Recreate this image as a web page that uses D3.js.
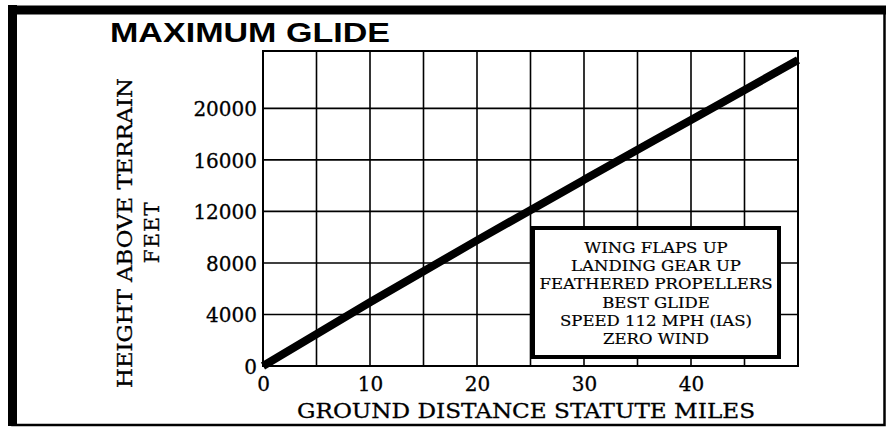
<!DOCTYPE html>
<html>
<head>
<meta charset="utf-8">
<script src="https://cdn.jsdelivr.net/npm/d3@7"></script>
<style>
  html, body { margin: 0; padding: 0; background: #fff; }
  svg { display: block; }
</style>
</head>
<body>
<svg id="chart" width="888" height="429"></svg>
<script>
// ---- data ----
const distanceMiles = [0, 10, 20, 30, 40, 50];                 // ground distance, statute miles
const heightFeet    = [0, 4950, 9750, 14450, 19100, 23750];    // height above terrain, feet
const xTickLabels   = [0, 10, 20, 30, 40];
const yTickLabels   = [0, 4000, 8000, 12000, 16000, 20000];
const xGridValues   = [0, 5, 10, 15, 20, 25, 30, 35, 40, 45, 50];
const yGridValues   = [0, 4000, 8000, 12000, 16000, 20000];
const noteLines = [
  "WING FLAPS UP",
  "LANDING GEAR UP",
  "FEATHERED PROPELLERS",
  "BEST GLIDE",
  "SPEED 112 MPH (IAS)",
  "ZERO WIND"
];
const titleText = "MAXIMUM GLIDE";
const xTitle = "GROUND DISTANCE STATUTE MILES";
const yTitle1 = "HEIGHT ABOVE TERRAIN";
const yTitle2 = "FEET";

// ---- layout ----
const svg = d3.select("#chart");
const plot = { left: 263, right: 798, top: 51, bottom: 366 };
const x = d3.scaleLinear().domain([0, 50]).range([plot.left, plot.right]);
const y = d3.scaleLinear().domain([0, 24450]).range([plot.bottom, plot.top]);
const serif = "'DejaVu Serif', 'Liberation Serif', serif";

// outer frame
svg.append("rect").attr("x", 12.5).attr("y", 10).attr("width", 872).attr("height", 415)
  .attr("fill", "none").attr("stroke", "#000").attr("stroke-width", 2.5);
svg.append("line").attr("x1", 12.5).attr("x2", 12.5).attr("y1", 5).attr("y2", 426)
  .attr("stroke", "#000").attr("stroke-width", 9);
svg.append("line").attr("x1", 8).attr("x2", 886).attr("y1", 10).attr("y2", 10)
  .attr("stroke", "#000").attr("stroke-width", 9);

// title
svg.append("text").text(titleText)
  .attr("x", 110).attr("y", 42)
  .attr("font-family", "'Liberation Sans', 'DejaVu Sans', sans-serif")
  .attr("font-weight", "bold").attr("font-size", 28)
  .attr("textLength", 280).attr("lengthAdjust", "spacingAndGlyphs")
  .attr("fill", "#000");

// grid
const g = svg.append("g");
g.selectAll("line.vg").data(xGridValues).join("line")
  .attr("x1", d => x(d)).attr("x2", d => x(d))
  .attr("y1", plot.top).attr("y2", plot.bottom)
  .attr("stroke", "#000").attr("stroke-width", 1.6);
g.selectAll("line.hg").data(yGridValues).join("line")
  .attr("x1", plot.left).attr("x2", plot.right)
  .attr("y1", d => y(d)).attr("y2", d => y(d))
  .attr("stroke", "#000").attr("stroke-width", 1.6);
g.append("rect").attr("x", plot.left).attr("y", plot.top)
  .attr("width", plot.right - plot.left).attr("height", plot.bottom - plot.top)
  .attr("fill", "none").attr("stroke", "#000").attr("stroke-width", 2);

// axes (labels only, using d3 axes)
const xAxis = d3.axisBottom(x).tickValues(xTickLabels).tickSize(0).tickPadding(0).tickFormat(d3.format("d"));
const xa = svg.append("g").attr("transform", `translate(0,${plot.bottom})`).call(xAxis);
xa.select(".domain").remove();
xa.selectAll("text").attr("font-family", serif).attr("font-size", 20).attr("fill", "#000")
  .attr("stroke", "#000").attr("stroke-width", 0.3)
  .attr("dy", null).attr("y", 25);

const yAxis = d3.axisLeft(y).tickValues(yTickLabels).tickSize(0).tickPadding(6).tickFormat(d3.format("d"));
const ya = svg.append("g").attr("transform", `translate(${plot.left},0)`).call(yAxis);
ya.select(".domain").remove();
ya.selectAll("text").attr("font-family", serif).attr("font-size", 20).attr("fill", "#000")
  .attr("stroke", "#000").attr("stroke-width", 0.3)
  .attr("dy", "0.36em");

// data line
const lineData = distanceMiles.map((d, i) => [d, heightFeet[i]]);
svg.append("path").datum(lineData)
  .attr("d", d3.line().x(d => x(d[0])).y(d => y(d[1])).curve(d3.curveMonotoneX))
  .attr("fill", "none").attr("stroke", "#000").attr("stroke-width", 8).attr("stroke-linecap", "butt");

// axis titles
svg.append("text").text(xTitle)
  .attr("x", 526).attr("y", 418).attr("text-anchor", "middle")
  .attr("font-family", serif).attr("font-size", 20)
  .attr("stroke", "#000").attr("stroke-width", 0.3)
  .attr("textLength", 458).attr("lengthAdjust", "spacingAndGlyphs").attr("fill", "#000");
svg.append("text").text(yTitle1)
  .attr("transform", "translate(132,233) rotate(-90)").attr("text-anchor", "middle")
  .attr("font-family", serif).attr("font-size", 20)
  .attr("stroke", "#000").attr("stroke-width", 0.3)
  .attr("textLength", 310).attr("lengthAdjust", "spacingAndGlyphs").attr("fill", "#000");
svg.append("text").text(yTitle2)
  .attr("transform", "translate(159,232) rotate(-90)").attr("text-anchor", "middle")
  .attr("font-family", serif).attr("font-size", 20)
  .attr("stroke", "#000").attr("stroke-width", 0.3)
  .attr("letter-spacing", 1.5).attr("fill", "#000");

// note box
const box = { x: 533, y: 228, w: 246, h: 129 };
svg.append("rect").attr("x", box.x).attr("y", box.y).attr("width", box.w).attr("height", box.h)
  .attr("fill", "#fff").attr("stroke", "#000").attr("stroke-width", 4);
const cx = box.x + box.w / 2;
const notes = svg.append("g").attr("transform", `translate(${cx},0)`);
const nt = notes.selectAll("text").data(noteLines).join("text")
  .text(d => d)
  .attr("x", 0).attr("y", (d, i) => 253 + i * 18.2)
  .attr("text-anchor", "middle")
  .attr("font-family", serif).attr("font-size", 14.5).attr("fill", "#000")
  .attr("stroke", "#000").attr("stroke-width", 0.2);
// stretch horizontally so the widest line matches the box width in the reference
let maxW = 0;
nt.each(function() { maxW = Math.max(maxW, this.getComputedTextLength()); });
const sx = 233 / maxW;
nt.attr("transform", `scale(${sx},1)`);
</script>
</body>
</html>
